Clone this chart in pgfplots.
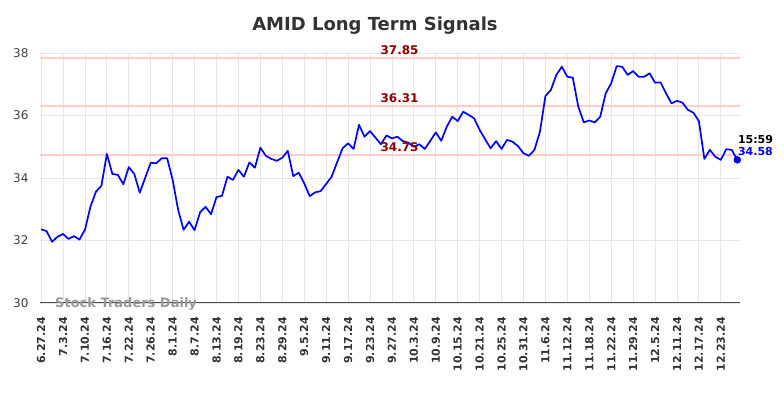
\documentclass[border=0pt]{standalone}
\usepackage{fontspec}
\setmainfont{DejaVu Sans}
\usepackage{pgfplots}
\usepackage{pgfplotstable}
\pgfplotsset{compat=1.18}
\definecolor{gridgray}{HTML}{E6E6E6}
\definecolor{levelpink}{HTML}{FFCCCC}
\definecolor{levelred}{HTML}{8B0000}
\pgfplotstableread{
i v
0 32.36
1 32.30
2 31.96
3 32.12
4 32.21
5 32.05
6 32.14
7 32.03
8 32.34
9 33.08
10 33.56
11 33.75
12 34.77
13 34.13
14 34.10
15 33.80
16 34.35
17 34.13
18 33.53
19 34.01
20 34.49
21 34.47
22 34.63
23 34.63
24 33.94
25 32.98
26 32.34
27 32.60
28 32.33
29 32.90
30 33.08
31 32.84
32 33.39
33 33.43
34 34.04
35 33.94
36 34.26
37 34.04
38 34.50
39 34.33
40 34.97
41 34.71
42 34.61
43 34.55
44 34.65
45 34.87
46 34.06
47 34.17
48 33.83
49 33.42
50 33.54
51 33.58
52 33.81
53 34.04
54 34.50
55 34.95
56 35.11
57 34.93
58 35.70
59 35.32
60 35.50
61 35.29
62 35.08
63 35.36
64 35.27
65 35.32
66 35.18
67 35.13
68 35.00
69 35.08
70 34.93
71 35.19
72 35.46
73 35.19
74 35.64
75 35.96
76 35.82
77 36.12
78 36.02
79 35.91
80 35.54
81 35.24
82 34.95
83 35.18
84 34.93
85 35.22
86 35.16
87 35.02
88 34.79
89 34.71
90 34.90
91 35.48
92 36.62
93 36.82
94 37.30
95 37.56
96 37.24
97 37.21
98 36.28
99 35.78
100 35.84
101 35.78
102 35.96
103 36.71
104 37.03
105 37.58
106 37.56
107 37.30
108 37.42
109 37.24
110 37.24
111 37.35
112 37.05
113 37.06
114 36.71
115 36.39
116 36.47
117 36.41
118 36.18
119 36.09
120 35.82
121 34.61
122 34.90
123 34.68
124 34.58
125 34.92
126 34.90
127 34.58
}\pricedata
\begin{document}
\begin{tikzpicture}
\useasboundingbox (0,0) rectangle (784pt,398pt);
\node[font=\fontsize{18}{20}\selectfont\bfseries, text=black!80] at (375pt,372pt) {AMID Long Term Signals};
\begin{axis}[
  at={(40pt,95pt)}, anchor=south west,
  scale only axis, width=700pt, height=250pt,
  xmin=-0.2, xmax=127.5, ymin=30, ymax=38,
  clip=false,
  separate axis lines,
  axis x line*=bottom, axis y line*=left,
  x axis line style={draw=black!70, line width=1pt, -},
  y axis line style={draw=none},
  major tick length=0pt,
  grid=major, grid style={draw=gridgray, line width=0.8pt},
  xtick={0,4,...,124},
  xticklabels={6.27.24,7.3.24,7.10.24,7.16.24,7.22.24,7.26.24,8.1.24,8.7.24,8.13.24,8.19.24,8.23.24,8.29.24,9.5.24,9.11.24,9.17.24,9.23.24,9.27.24,10.3.24,10.9.24,10.15.24,10.21.24,10.25.24,10.31.24,11.6.24,11.12.24,11.18.24,11.22.24,11.29.24,12.5.24,12.11.24,12.17.24,12.23.24},
  xticklabel style={rotate=90, anchor=east, inner xsep=14pt, font=\fontsize{11}{12}\selectfont\bfseries, text=black!80},
  ytick={30,32,34,36,38},
  yticklabel style={font=\fontsize{12}{13}\selectfont, text=black!75, xshift=-8pt},
  /pgf/number format/assume math mode=true,
]
\addplot[levelpink, line width=2pt] coordinates {(-0.2,37.85) (127.5,37.85)};
\addplot[levelpink, line width=2pt] coordinates {(-0.2,36.31) (127.5,36.31)};
\addplot[levelpink, line width=2pt] coordinates {(-0.2,34.75) (127.5,34.75)};
\addplot[blue, line width=1.7pt, line join=round] table[x=i, y=v] {\pricedata};
\addplot[blue, only marks, mark=*, mark size=3.5pt] coordinates {(127,34.58)};
\node[font=\fontsize{12}{13}\selectfont\bfseries, text=levelred] at (axis cs:65.4,38.09) {37.85};
\node[font=\fontsize{12}{13}\selectfont\bfseries, text=levelred] at (axis cs:65.4,36.55) {36.31};
\node[font=\fontsize{12}{13}\selectfont\bfseries, text=levelred] at (axis cs:65.4,34.99) {34.75};
\node[font=\fontsize{11}{12}\selectfont\bfseries, text=black, anchor=west, inner sep=0pt] at (axis cs:127.1,35.23) {15:59};
\node[font=\fontsize{11}{12}\selectfont\bfseries, text=blue, anchor=west, inner sep=0pt] at (axis cs:127.1,34.84) {34.58};
\node[font=\fontsize{13}{14}\selectfont\bfseries, text=black!40] at (axis cs:15.5,29.98) {Stock Traders Daily};
\end{axis}
\end{tikzpicture}
\end{document}
